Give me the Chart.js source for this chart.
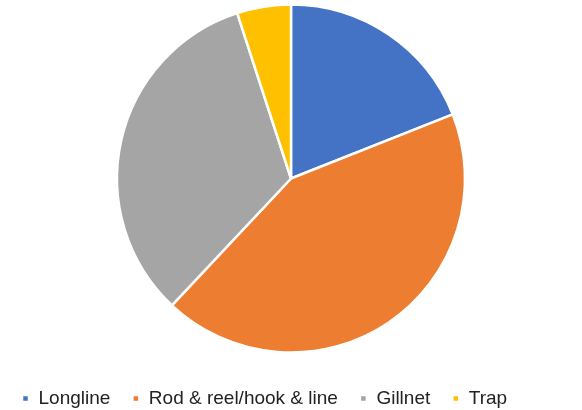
<!DOCTYPE html>
<html>
<head>
<meta charset="utf-8">
<script src="https://cdn.jsdelivr.net/npm/chart.js@4"></script>
<style>
  html, body { margin: 0; padding: 0; background: #fff; }
  #wrap { width: 582px; height: 410px; }
</style>
</head>
<body>
<div id="wrap"><canvas id="pizza"></canvas></div>
<script>
// pie - gear types
var categorias = ['Longline', 'Rod & reel/hook & line', 'Gillnet', 'Trap'];
var valores = [19, 43, 33, 5];
var cores = ['#4472C4', '#ED7D31', '#A5A5A5', '#FFC000'];

var ctx = document.getElementById('pizza').getContext('2d');

// sobe a pizza alguns pixels
var subirPizza = {
    id: 'subirPizza',
    afterLayout: function (chart) {
        chart.chartArea.top -= 5;
        chart.chartArea.bottom -= 5;
    }
};

var grafico = new Chart(ctx, {
    type: 'pie',
    data: {
        labels: categorias,
        datasets: [{
            data: valores,
            backgroundColor: cores,
            borderColor: '#ffffff',
            borderWidth: 2.5
        }]
    },
    options: {
        responsive: true,
        maintainAspectRatio: false,
        animation: false,
        radius: 174,
        layout: {
            padding: { top: -30, bottom: -8, left: 0, right: 0 }
        },
        plugins: {
            tooltip: { enabled: false },
            legend: {
                position: 'bottom',
                align: 'start',
                labels: {
                    boxWidth: 7,
                    boxHeight: 7,
                    padding: 22,
                    color: '#222222',
                    font: {
                        family: "'Liberation Sans', Arial, sans-serif",
                        size: 19
                    }
                }
            }
        }
    },
    plugins: [subirPizza]
});
</script>
</body>
</html>
